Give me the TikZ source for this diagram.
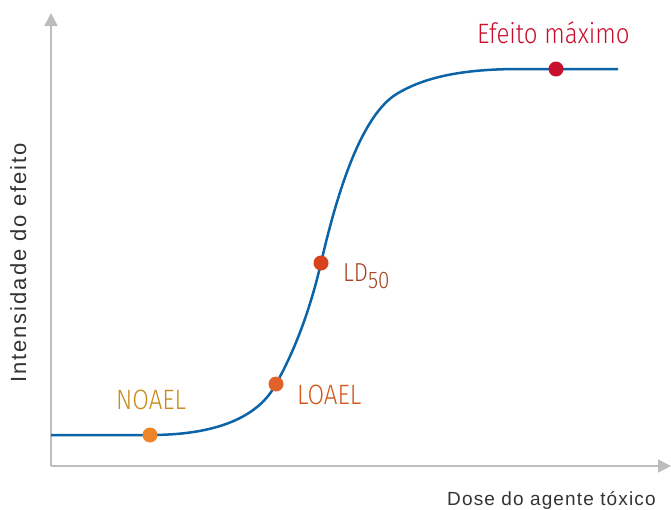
\documentclass[tikz,border=0pt]{standalone}
\usepackage{fontspec}
\setmainfont{Liberation Sans}
\newfontfamily\xaxfont[LetterSpace=6]{Liberation Sans}
\newfontfamily\yaxfont[LetterSpace=9]{Liberation Sans}
\newfontfamily\lblfont[FakeStretch=0.86]{Fira Sans Light}
\usetikzlibrary{arrows.meta}
\definecolor{axisgray}{HTML}{BDBDBD}
\definecolor{curveblue}{HTML}{0B63A8}
\definecolor{maxred}{HTML}{C8102E}
\definecolor{ldbrown}{HTML}{A3431F}
\definecolor{lddot}{HTML}{D9401E}
\definecolor{loaeltxt}{HTML}{D2581C}
\definecolor{loaeldot}{HTML}{E0622A}
\definecolor{noaeltxt}{HTML}{C98B1E}
\definecolor{noaeldot}{HTML}{EE8427}
\definecolor{axtext}{HTML}{333333}
\tikzset{
  axis/.style={draw=axisgray, line width=1.6pt, -{Triangle[length=13pt,width=13pt]}},
  pt/.style={circle, inner sep=0pt, minimum size=14pt},
  lbl/.style={font=\lblfont\fontsize{28}{28}\selectfont, inner sep=0pt, anchor=base west},
  axlbl/.style={inner sep=0pt, text=axtext}
}
\begin{document}
\begin{tikzpicture}[x=1pt,y=-1pt]
\useasboundingbox (0,0) rectangle (671,509);
\coordinate (O) at (51,466);
\coordinate (ytip) at (51,13);
\coordinate (xtip) at (671,466);
\draw[axis] (O) -- (ytip);
\draw[axis] (O) -- (xtip);
\coordinate (c0) at (51,435);
\node[pt] (noael) at (150,435) {};
\node[pt] (loael) at (276,384) {};
\node[pt] (ld) at (321,263) {};
\node[pt] (max) at (556,69) {};
\coordinate (bend) at (400,92);
\coordinate (c1) at (618,69);
\draw[curveblue, line width=2.5pt]
  (c0) -- (noael.center)
  .. controls (215,435) and (258,418) .. (loael.center)
  .. controls (295,350) and (310,310) .. (ld.center)
  .. controls (340,180) and (365,110) .. (bend)
  .. controls (430,75) and (470,69) .. (520,69) -- (c1);
\fill[noaeldot] (noael) circle (7.5pt);
\fill[loaeldot] (loael) circle (7.5pt);
\fill[lddot] (ld) circle (7.5pt);
\fill[maxred] (max) circle (7.5pt);
\node[lbl, text=noaeltxt] (tnoael) at (116,409) {NOAEL};
\node[lbl, text=loaeltxt] (tloael) at (297,404) {LOAEL};
\node[lbl, text=ldbrown, font=\lblfont\fontsize{26}{26}\selectfont] (tld) at (343,281) {LD\raisebox{-7pt}{\fontsize{24}{24}\selectfont 50}};
\node[lbl, text=maxred] (tmax) at (477,43) {Efeito máximo};
\node[axlbl, anchor=base west, font=\xaxfont\fontsize{19}{19}\selectfont] (xl) at (447,505) {Dose do agente tóxico};
\node[axlbl, rotate=90, anchor=base, font=\yaxfont\fontsize{22}{22}\selectfont] (yl) at (26,263) {Intensidade do efeito};
\end{tikzpicture}
\end{document}
